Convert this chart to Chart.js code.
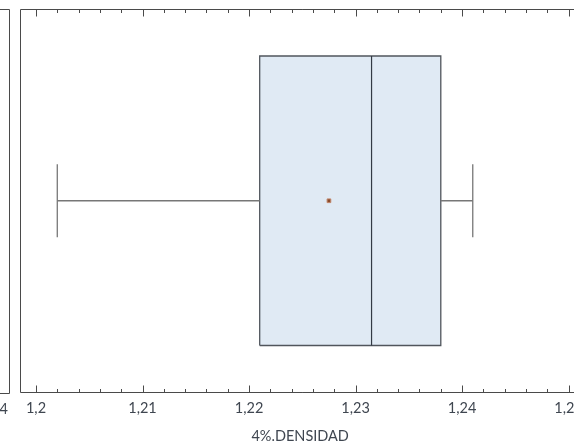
<!DOCTYPE html>
<html>
<head>
<meta charset="utf-8">
<script src="https://cdn.jsdelivr.net/npm/chart.js@4.4.1/dist/chart.umd.min.js"></script>
<style>
  html, body { margin: 0; padding: 0; background: #fff; overflow: hidden; }
  #wrap { width: 574px; height: 446px; overflow: hidden; position: relative; }
  canvas { display: block; }
</style>
</head>
<body>
<div id="wrap"><canvas id="c" width="590" height="446"></canvas></div>
<script>
// ---- data ----
const categories = ['4%.DENSIDAD'];
// [lower whisker, Q1, median, Q3, upper whisker]
const fiveNumber = [1.202, 1.221, 1.2315, 1.238, 1.241];
const meanValues = [1.2275];
const tickValues = [1.20, 1.21, 1.22, 1.23, 1.24, 1.25];
const tickLabels = ['1,2', '1,21', '1,22', '1,23', '1,24', '1,25'];
const minorStep = 0.002;
const leftPanelLabel = ['1,24'];

const [wLo, q1, med, q3, wHi] = fiveNumber;
const H = 0.755;   // half box height in y-units
const C = 0.191;   // half cap height

const textColor = '#3f4650';
const fontFam = 'Lato, "DejaVu Sans", sans-serif';

const seg = (a, b) => [{x: a[0], y: a[1]}, {x: b[0], y: b[1]}];
const lineDs = (data, color, w) => ({
  type: 'line', data, showLine: true, borderColor: color, borderWidth: w || 1,
  pointRadius: 0, tension: 0, fill: false
});

const framePlugin = {
  id: 'frame',
  afterDraw(chart) {
    const {ctx, chartArea: a, scales: {x}} = chart;
    ctx.save();
    ctx.strokeStyle = '#4a4a4a';
    ctx.lineWidth = 1;
    const L = Math.round(a.left) + 0.5, T = Math.round(a.top) + 0.5, B = Math.round(a.bottom) - 0.5;
    ctx.beginPath();
    ctx.moveTo(a.right + 5, T); ctx.lineTo(L, T); ctx.lineTo(L, B); ctx.lineTo(a.right + 5, B);
    ctx.stroke();
    // inward ticks (major and minor), bottom and top
    ctx.beginPath();
    const start = tickValues[0] - 5 * minorStep;
    for (let k = 0; k <= 40; k++) {
      const v = start + k * minorStep;
      if (v < x.min || v > x.max) continue;
      const px = Math.round(x.getPixelForValue(v)) + 0.5;
      const isMajor = tickValues.some(t => Math.abs(t - v) < 1e-9);
      const len = isMajor ? 7 : 3.5;
      ctx.moveTo(px, B); ctx.lineTo(px, B - len);
      ctx.moveTo(px, T); ctx.lineTo(px, T + len);
    }
    ctx.stroke();
    // neighbouring (cropped) panel at the left edge
    ctx.beginPath();
    ctx.moveTo(0, T); ctx.lineTo(9.5, T); ctx.lineTo(9.5, B + 1); ctx.lineTo(0, B + 1);
    ctx.stroke();
    ctx.fillStyle = textColor;
    ctx.font = '14.5px ' + fontFam;
    ctx.textAlign = 'right';
    ctx.textBaseline = 'middle';
    ctx.fillText(leftPanelLabel[0], 8, a.bottom + 17);
    ctx.restore();
  }
};

new Chart(document.getElementById('c'), {
  type: 'scatter',
  data: {
    datasets: [
      {
        type: 'scatter',
        data: meanValues.map(v => ({x: v, y: 0})),
        pointStyle: 'rect', pointRadius: 2.6,
        backgroundColor: '#8a4a2a', borderColor: '#c0866a', borderWidth: 1
      },
      lineDs(seg([med, -H], [med, H]), '#333a44', 1.2),
      lineDs(seg([wLo, -C], [wLo, C]), '#777777', 1.3),
      lineDs(seg([wHi, -C], [wHi, C]), '#777777', 1.3),
      lineDs(seg([wLo, 0], [q1, 0]), '#777777', 1.3),
      lineDs(seg([q3, 0], [wHi, 0]), '#777777', 1.3),
      {
        type: 'line',
        data: [{x: q1, y: -H}, {x: q1, y: H}, {x: q3, y: H}, {x: q3, y: -H}, {x: q1, y: -H}],
        showLine: true, borderColor: '#50555c', borderWidth: 1.3,
        backgroundColor: '#e0eaf4', fill: 'shape', pointRadius: 0, tension: 0
      }
    ]
  },
  options: {
    responsive: false,
    animation: false,
    events: [],
    layout: { padding: { left: 20, top: 9, right: 0, bottom: 0 } },
    plugins: { legend: { display: false }, tooltip: { enabled: false } },
    scales: {
      x: {
        type: 'linear',
        min: 1.1985,
        max: 1.2511,
        afterBuildTicks(scale) { scale.ticks = tickValues.map(v => ({value: v})); },
        grid: { display: false, drawTicks: false },
        border: { display: false },
        ticks: {
          padding: 7,
          color: textColor,
          font: { family: fontFam, size: 14.5 },
          maxRotation: 0,
          autoSkip: false,
          callback(value) {
            const i = tickValues.findIndex(t => Math.abs(t - value) < 1e-9);
            return i >= 0 ? tickLabels[i] : '';
          }
        },
        title: {
          display: true,
          text: categories[0],
          color: textColor,
          font: { family: fontFam, size: 14.5 },
          padding: { top: 3.5, bottom: 1.2 }
        }
      },
      y: { type: 'linear', display: false, min: -1, max: 1 }
    }
  },
  plugins: [framePlugin]
});
</script>
</body>
</html>
